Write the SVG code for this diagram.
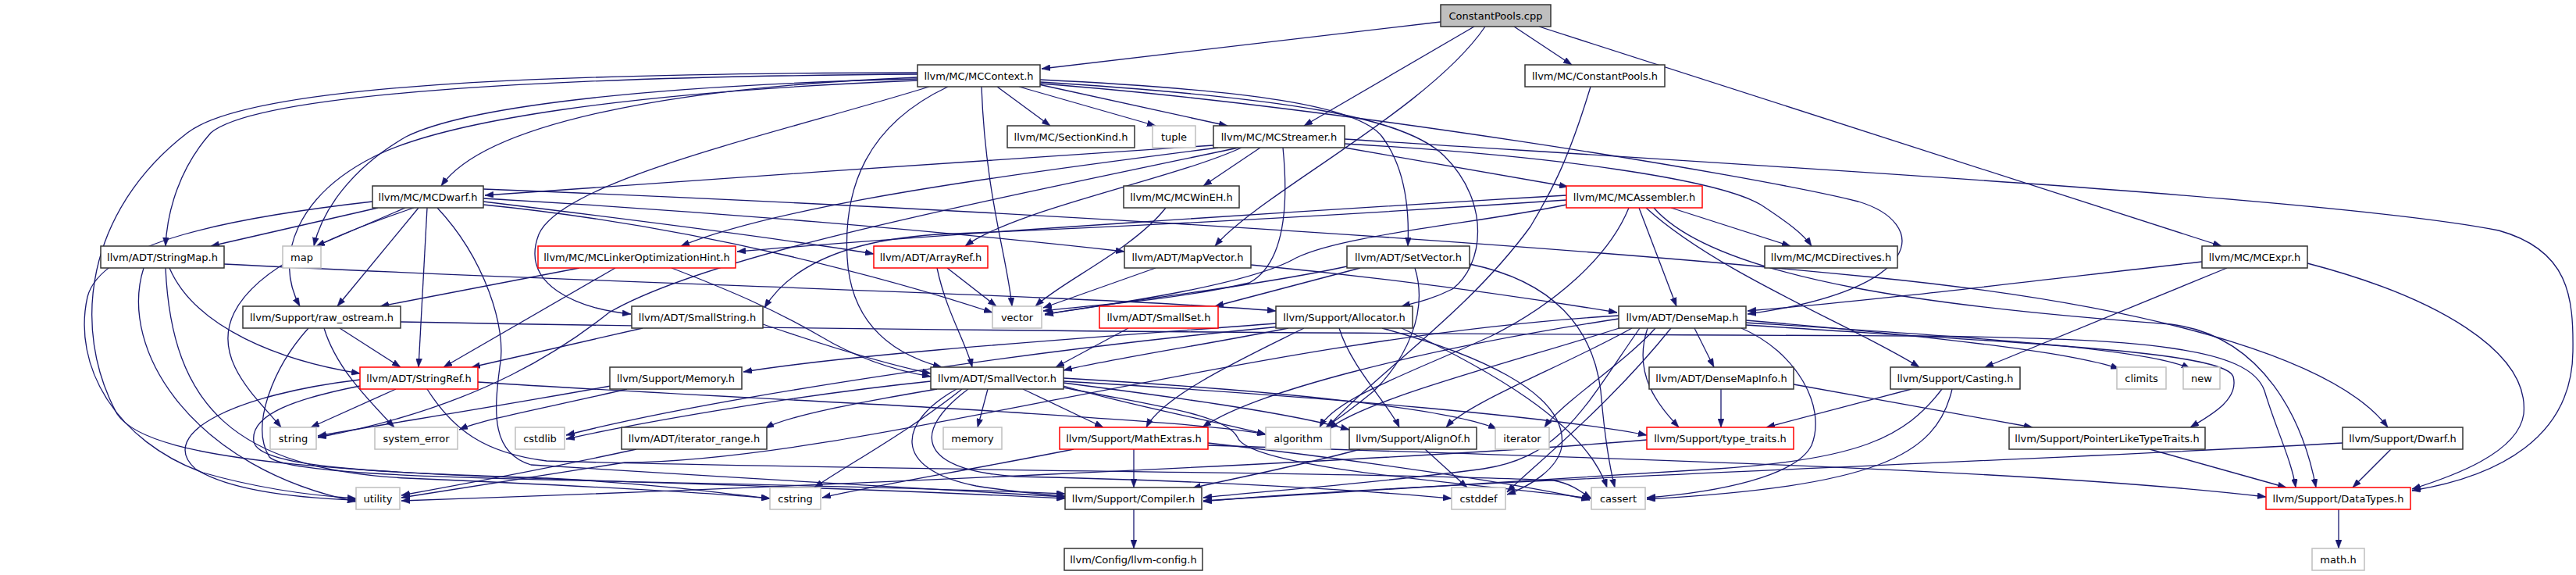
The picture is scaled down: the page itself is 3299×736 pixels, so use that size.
<svg xmlns="http://www.w3.org/2000/svg" width="3299" height="736" viewBox="0 0 3299 736">
<style>
.n rect{fill:#fff;stroke:#333;stroke-width:1.5}
.n.r rect{stroke:#f00}
.n.g rect{stroke:#bfbfbf}
.n.root rect{fill:#bfbfbf}
.n text{font-family:"DejaVu Sans","Liberation Sans",sans-serif;font-size:13px;text-anchor:middle;fill:#000}
#edges path{fill:none;stroke:#191970;stroke-width:1.3;marker-end:url(#ah)}
</style>
<defs>
<marker id="ah" markerWidth="11" markerHeight="8" refX="11" refY="4" orient="auto" markerUnits="userSpaceOnUse">
<path d="M0,0 L11,4 L0,8 z" fill="#191970" stroke="#191970" stroke-width="0.5"/>
</marker>
</defs>
<rect width="3299" height="736" fill="#fff"/>
<g id="edges">
<path d="M1845,28 L1334,88"/>
<path d="M1888,34 L1670,161"/>
<path d="M1902,34 C1830,140 1610,250 1556,315"/>
<path d="M1939,34 L2013,83"/>
<path d="M1971,34 L2845,315"/>
<path d="M2037,111 C2010,200 1990,240 1960,290 C1880,400 1760,480 1700,547"/>
<path d="M1277,111 L1345,161"/>
<path d="M1305,111 L1480,161"/>
<path d="M1330,108 L1572,161"/>
<path d="M1175,99 C850,112 620,160 565,238"/>
<path d="M1175,95 C700,98 330,120 270,170 C230,215 214,270 212,315"/>
<path d="M1175,101 C800,110 590,140 520,175 C450,215 412,270 402,315"/>
<path d="M1175,103 C800,118 570,155 480,200 C380,250 350,330 384,392"/>
<path d="M1175,93 C700,94 320,108 240,170 C110,270 90,420 150,530 C210,620 700,605 1364,638"/>
<path d="M1190,111 C1000,170 720,230 690,300 C665,365 740,395 808,402"/>
<path d="M1257,111 C1262,250 1290,330 1296,392"/>
<path d="M1214,111 C1110,160 1080,240 1085,330 C1090,420 1150,455 1206,470"/>
<path d="M1332,102 C1600,115 1740,135 1770,175 C1800,215 1805,270 1803,315"/>
<path d="M1332,105 C1650,125 1800,150 1850,200 C1910,260 1900,340 1860,370 C1830,385 1810,388 1795,392"/>
<path d="M1332,107 C1700,135 2250,225 2380,258 C2470,285 2470,370 2238,402"/>
<path d="M1554,186 C1300,205 900,228 621,250"/>
<path d="M1560,189 C1300,222 1000,262 872,315"/>
<path d="M1586,189 C1200,270 900,330 780,400 C730,440 620,520 407,560"/>
<path d="M1590,189 C1500,230 1300,268 1236,315"/>
<path d="M1614,189 L1541,238"/>
<path d="M1643,189 C1652,280 1640,340 1600,362 C1500,385 1400,390 1336,398"/>
<path d="M1722,178 C2300,215 3000,255 3200,295 C3290,320 3296,380 3295,450 C3294,560 3200,610 3089,628"/>
<path d="M1722,184 C2000,200 2200,230 2255,262 C2290,285 2310,300 2320,315"/>
<path d="M1722,189 L2008,239"/>
<path d="M484,266 L270,315"/>
<path d="M519,266 L405,315"/>
<path d="M530,266 C430,300 330,340 300,400 C270,460 330,510 360,547"/>
<path d="M536,266 L432,392"/>
<path d="M547,266 L536,470"/>
<path d="M560,266 C620,330 650,420 640,470 C632,530 630,580 680,595 C900,610 1200,625 1364,636"/>
<path d="M477,258 C300,278 130,310 112,380 C92,470 150,565 260,605 C340,628 410,635 456,638"/>
<path d="M619,254 C900,270 1200,295 1440,322"/>
<path d="M619,258 C800,280 1000,305 1119,325"/>
<path d="M619,262 C900,290 1150,360 1271,400"/>
<path d="M619,242 C1200,265 1900,305 2400,355 C2800,395 3000,470 3058,547"/>
<path d="M1493,266 C1450,320 1360,360 1326,392"/>
<path d="M2006,250 C1700,268 1200,300 944,322"/>
<path d="M2006,256 C1800,270 1500,288 1200,300 C1050,310 1000,360 979,394"/>
<path d="M2006,262 C1900,285 1720,300 1660,330 C1600,365 1420,390 1338,402"/>
<path d="M2086,266 C2060,330 1990,390 1910,430 C1800,480 1710,510 1690,547"/>
<path d="M2099,266 L2147,392"/>
<path d="M2108,266 C2200,350 2380,420 2458,470"/>
<path d="M2118,266 C2200,360 2500,395 2780,415 C2900,430 2950,540 2966,624"/>
<path d="M2140,266 L2293,315"/>
<path d="M217,343 C250,420 360,462 461,478"/>
<path d="M287,338 C700,360 1400,378 1634,398"/>
<path d="M184,343 C150,450 250,600 456,642"/>
<path d="M212,343 C220,520 300,600 520,612 C750,622 900,630 986,638"/>
<path d="M742,343 L487,392"/>
<path d="M788,343 L568,470"/>
<path d="M860,343 C930,370 990,395 1050,430 C1100,460 1150,475 1192,482"/>
<path d="M1213,343 L1276,392"/>
<path d="M1200,343 C1212,400 1238,440 1245,470"/>
<path d="M1480,343 L1336,394"/>
<path d="M1602,339 C1800,358 1950,380 2071,400"/>
<path d="M1742,343 L1556,392"/>
<path d="M1725,341 C1600,368 1400,390 1338,403"/>
<path d="M1812,343 C1830,400 1800,460 1760,500 C1730,525 1710,538 1698,547"/>
<path d="M1882,338 C1990,360 2040,420 2050,500 C2055,560 2062,600 2068,624"/>
<path d="M1445,420 L1352,470"/>
<path d="M1634,414 C1400,432 1100,452 952,476"/>
<path d="M1650,420 C1550,440 1420,460 1362,474"/>
<path d="M1670,420 C1600,455 1490,505 1468,547"/>
<path d="M1715,420 C1730,470 1780,520 1792,547"/>
<path d="M1770,420 C1880,450 2010,500 2000,572 C1995,600 1960,622 1930,633"/>
<path d="M1795,420 C1900,470 2030,540 2058,624"/>
<path d="M1640,418 C1300,450 900,512 725,557"/>
<path d="M2170,420 L2195,470"/>
<path d="M2236,410 C2450,428 2650,450 2714,472"/>
<path d="M2236,413 C2500,430 2750,445 2805,472"/>
<path d="M2236,416 C2600,440 2850,450 2860,482 C2868,512 2830,532 2805,547"/>
<path d="M2110,420 C2090,480 2125,520 2150,547"/>
<path d="M2080,418 C1950,460 1750,510 1702,549"/>
<path d="M2090,420 C2000,470 1880,515 1852,547"/>
<path d="M2120,420 C2080,465 2000,515 1978,547"/>
<path d="M2073,408 C1800,450 1600,505 1540,547"/>
<path d="M2100,420 C2030,520 2000,585 1900,600 C1750,620 1600,630 1541,637"/>
<path d="M2073,404 C1600,432 1100,590 800,592 C650,615 560,630 514,637"/>
<path d="M2230,420 C2300,450 2340,520 2320,570 C2300,610 2200,630 2109,637"/>
<path d="M2140,420 C2060,520 1960,600 1930,630"/>
<path d="M2204,498 L2204,547"/>
<path d="M2297,492 L2603,547"/>
<path d="M2448,498 L2262,547"/>
<path d="M2487,498 C2440,560 2380,588 2200,600 C1900,618 1700,630 1541,641"/>
<path d="M2500,498 C2480,585 2400,622 2109,639"/>
<path d="M2109,563 C1800,590 900,628 514,641"/>
<path d="M2753,575 L2928,624"/>
<path d="M3062,575 L3013,624"/>
<path d="M3000,567 C2600,590 1800,618 1541,642"/>
<path d="M2852,343 L2542,470"/>
<path d="M2955,337 C3120,380 3240,450 3232,530 C3225,580 3140,610 3089,626"/>
<path d="M2820,335 C2600,360 2400,385 2238,398"/>
<path d="M507,498 L398,547"/>
<path d="M461,486 C300,505 200,555 250,600 C300,632 400,638 456,640"/>
<path d="M461,494 C380,510 320,530 325,565 C330,600 500,605 700,612 C850,620 930,632 986,638"/>
<path d="M612,489 C850,505 1100,515 1300,528 C1450,538 1560,545 1621,556"/>
<path d="M547,498 C580,550 620,580 700,590 C1100,602 1800,605 1990,615 C2015,620 2025,630 2038,638"/>
<path d="M435,420 L513,470"/>
<path d="M415,420 C430,470 470,510 505,547"/>
<path d="M395,420 C350,470 320,545 345,585 C380,620 900,612 1364,632"/>
<path d="M513,412 C1200,425 2000,428 2450,430 C2750,433 2880,445 2900,500 C2915,550 2935,590 2940,624"/>
<path d="M803,498 C700,522 620,536 588,550"/>
<path d="M782,494 C650,518 480,545 407,558"/>
<path d="M1265,498 L1252,547"/>
<path d="M1310,498 L1413,547"/>
<path d="M1362,494 C1450,520 1560,540 1621,556"/>
<path d="M1362,490 C1500,508 1650,528 1728,550"/>
<path d="M1362,484 C1600,498 1850,520 1917,549"/>
<path d="M1192,488 C1000,508 800,545 725,562"/>
<path d="M1200,498 C1100,515 1010,532 980,548"/>
<path d="M1232,498 C1160,555 1085,595 1043,624"/>
<path d="M1225,498 C1150,540 1140,600 1250,622 C1300,630 1340,633 1364,635"/>
<path d="M1240,498 C1170,550 1170,600 1300,610 C1550,615 1750,628 1859,638"/>
<path d="M1362,496 C1480,520 1570,530 1585,560 C1600,600 1900,620 2038,638"/>
<path d="M1362,488 C1700,508 2000,535 2109,557"/>
<path d="M815,575 C700,600 580,622 514,634"/>
<path d="M1452,575 L1452,624"/>
<path d="M1375,575 C1250,600 1100,625 1053,637"/>
<path d="M1547,567 C1750,590 1950,620 2036,640"/>
<path d="M1547,570 C2000,585 2600,600 2902,636"/>
<path d="M1742,575 C1650,600 1565,615 1527,625"/>
<path d="M1825,575 L1879,624"/>
<path d="M1452,652 L1452,702"/>
<path d="M2995,652 L2995,702"/>
<path d="M823,420 L604,470"/>
<path d="M977,415 C1050,440 1130,465 1192,478"/>
</g>
<g id="n_cpp" class="n root"><rect x="1845" y="6" width="141" height="28"/><text x="1915.5" y="25">ConstantPools.cpp</text></g>
<g id="n_ctx" class="n"><rect x="1175" y="83" width="157" height="28"/><text x="1253.5" y="102">llvm/MC/MCContext.h</text></g>
<g id="n_cph" class="n"><rect x="1953" y="83" width="179" height="28"/><text x="2042.5" y="102">llvm/MC/ConstantPools.h</text></g>
<g id="n_sk" class="n"><rect x="1290" y="161" width="163" height="28"/><text x="1371.5" y="180">llvm/MC/SectionKind.h</text></g>
<g id="n_tuple" class="n g"><rect x="1476" y="161" width="55" height="28"/><text x="1503.5" y="180">tuple</text></g>
<g id="n_str" class="n"><rect x="1554" y="161" width="168" height="28"/><text x="1638" y="180">llvm/MC/MCStreamer.h</text></g>
<g id="n_dwarf" class="n"><rect x="477" y="238" width="142" height="28"/><text x="548" y="257">llvm/MC/MCDwarf.h</text></g>
<g id="n_wineh" class="n"><rect x="1439" y="238" width="148" height="28"/><text x="1513" y="257">llvm/MC/MCWinEH.h</text></g>
<g id="n_asm" class="n r"><rect x="2006" y="238" width="174" height="28"/><text x="2093" y="257">llvm/MC/MCAssembler.h</text></g>
<g id="n_smap" class="n"><rect x="129" y="315" width="158" height="28"/><text x="208" y="334">llvm/ADT/StringMap.h</text></g>
<g id="n_map" class="n g"><rect x="362" y="315" width="49" height="28"/><text x="386.5" y="334">map</text></g>
<g id="n_loh" class="n r"><rect x="689" y="315" width="253" height="28"/><text x="815.5" y="334">llvm/MC/MCLinkerOptimizationHint.h</text></g>
<g id="n_aref" class="n r"><rect x="1119" y="315" width="146" height="28"/><text x="1192" y="334">llvm/ADT/ArrayRef.h</text></g>
<g id="n_mvec" class="n"><rect x="1440" y="315" width="162" height="28"/><text x="1521" y="334">llvm/ADT/MapVector.h</text></g>
<g id="n_setv" class="n"><rect x="1725" y="315" width="157" height="28"/><text x="1803.5" y="334">llvm/ADT/SetVector.h</text></g>
<g id="n_dir" class="n"><rect x="2260" y="315" width="170" height="28"/><text x="2345" y="334">llvm/MC/MCDirectives.h</text></g>
<g id="n_expr" class="n"><rect x="2820" y="315" width="135" height="28"/><text x="2887.5" y="334">llvm/MC/MCExpr.h</text></g>
<g id="n_ros" class="n"><rect x="311" y="392" width="202" height="28"/><text x="412" y="411">llvm/Support/raw_ostream.h</text></g>
<g id="n_sstr" class="n"><rect x="809" y="392" width="168" height="28"/><text x="893" y="411">llvm/ADT/SmallString.h</text></g>
<g id="n_vector" class="n g"><rect x="1271" y="392" width="63" height="28"/><text x="1302.5" y="411">vector</text></g>
<g id="n_sset" class="n r"><rect x="1408" y="392" width="152" height="28"/><text x="1484" y="411">llvm/ADT/SmallSet.h</text></g>
<g id="n_alloc" class="n"><rect x="1634" y="392" width="175" height="28"/><text x="1721.5" y="411">llvm/Support/Allocator.h</text></g>
<g id="n_dmap" class="n"><rect x="2073" y="392" width="163" height="28"/><text x="2154.5" y="411">llvm/ADT/DenseMap.h</text></g>
<g id="n_sref" class="n r"><rect x="461" y="470" width="151" height="28"/><text x="536.5" y="489">llvm/ADT/StringRef.h</text></g>
<g id="n_mem" class="n"><rect x="781" y="470" width="169" height="28"/><text x="865.5" y="489">llvm/Support/Memory.h</text></g>
<g id="n_svec" class="n"><rect x="1192" y="470" width="170" height="28"/><text x="1277" y="489">llvm/ADT/SmallVector.h</text></g>
<g id="n_dmi" class="n"><rect x="2112" y="470" width="185" height="28"/><text x="2204.5" y="489">llvm/ADT/DenseMapInfo.h</text></g>
<g id="n_cast" class="n"><rect x="2421" y="470" width="166" height="28"/><text x="2504" y="489">llvm/Support/Casting.h</text></g>
<g id="n_climits" class="n g"><rect x="2711" y="470" width="63" height="28"/><text x="2742.5" y="489">climits</text></g>
<g id="n_new" class="n g"><rect x="2796" y="470" width="47" height="28"/><text x="2819.5" y="489">new</text></g>
<g id="n_string" class="n g"><rect x="346" y="547" width="59" height="28"/><text x="375.5" y="566">string</text></g>
<g id="n_syserr" class="n g"><rect x="480" y="547" width="106" height="28"/><text x="533" y="566">system_error</text></g>
<g id="n_cstdlib" class="n g"><rect x="660" y="547" width="63" height="28"/><text x="691.5" y="566">cstdlib</text></g>
<g id="n_itr" class="n"><rect x="796" y="547" width="186" height="28"/><text x="889" y="566">llvm/ADT/iterator_range.h</text></g>
<g id="n_memory" class="n g"><rect x="1208" y="547" width="75" height="28"/><text x="1245.5" y="566">memory</text></g>
<g id="n_mext" class="n r"><rect x="1357" y="547" width="190" height="28"/><text x="1452" y="566">llvm/Support/MathExtras.h</text></g>
<g id="n_algo" class="n g"><rect x="1621" y="547" width="83" height="28"/><text x="1662.5" y="566">algorithm</text></g>
<g id="n_align" class="n"><rect x="1728" y="547" width="163" height="28"/><text x="1809.5" y="566">llvm/Support/AlignOf.h</text></g>
<g id="n_iter" class="n g"><rect x="1915" y="547" width="69" height="28"/><text x="1949.5" y="566">iterator</text></g>
<g id="n_tt" class="n r"><rect x="2109" y="547" width="188" height="28"/><text x="2203" y="566">llvm/Support/type_traits.h</text></g>
<g id="n_pltt" class="n"><rect x="2573" y="547" width="251" height="28"/><text x="2698.5" y="566">llvm/Support/PointerLikeTypeTraits.h</text></g>
<g id="n_dwarfs" class="n"><rect x="3000" y="547" width="154" height="28"/><text x="3077" y="566">llvm/Support/Dwarf.h</text></g>
<g id="n_utility" class="n g"><rect x="456" y="624" width="56" height="28"/><text x="484" y="643">utility</text></g>
<g id="n_cstring" class="n g"><rect x="986" y="624" width="65" height="28"/><text x="1018.5" y="643">cstring</text></g>
<g id="n_comp" class="n"><rect x="1364" y="624" width="175" height="28"/><text x="1451.5" y="643">llvm/Support/Compiler.h</text></g>
<g id="n_cstddef" class="n g"><rect x="1859" y="624" width="69" height="28"/><text x="1893.5" y="643">cstddef</text></g>
<g id="n_cassert" class="n g"><rect x="2038" y="624" width="69" height="28"/><text x="2072.5" y="643">cassert</text></g>
<g id="n_dtypes" class="n r"><rect x="2902" y="624" width="185" height="28"/><text x="2994.5" y="643">llvm/Support/DataTypes.h</text></g>
<g id="n_config" class="n"><rect x="1363" y="702" width="177" height="28"/><text x="1451.5" y="721">llvm/Config/llvm-config.h</text></g>
<g id="n_math" class="n g"><rect x="2961" y="702" width="67" height="28"/><text x="2994.5" y="721">math.h</text></g>
</svg>
